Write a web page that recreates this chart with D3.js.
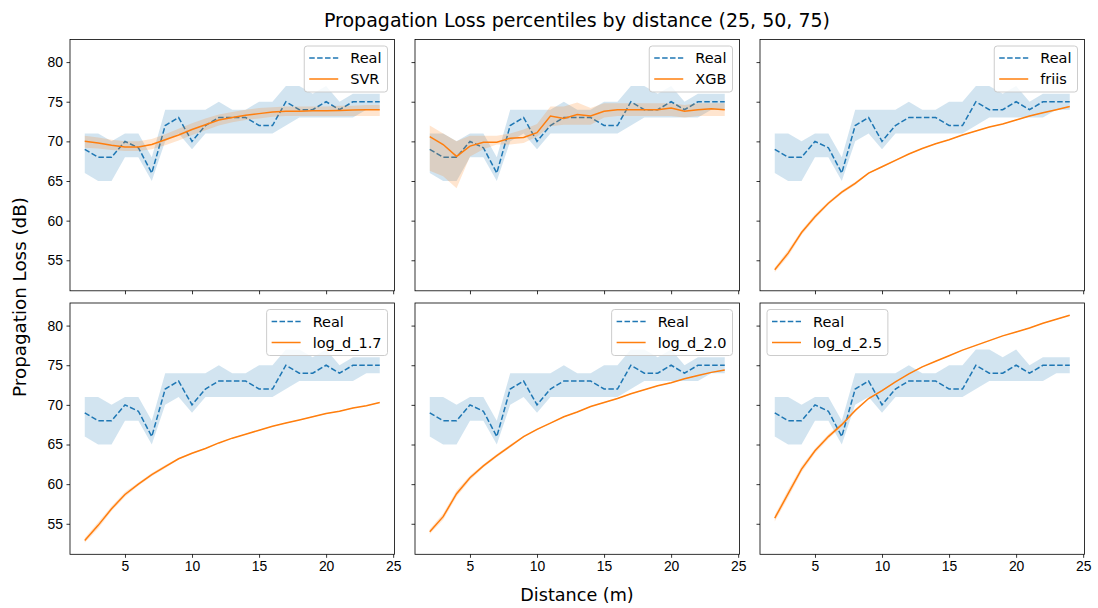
<!DOCTYPE html>
<html>
<head>
<meta charset="utf-8">
<script src="https://cdn.jsdelivr.net/npm/d3@7"></script>
<style>
  body { margin: 0; background: #fff; }
  svg { font-family: "DejaVu Sans", sans-serif; }
  .tick text { font-size: 13.9px; fill: #000; }
  .domain { display: none; }
  .tick line { stroke: #000; stroke-width: 0.8; }
</style>
</head>
<body>
<svg id="svg" width="1098" height="608"></svg>
<script>
const distance = [2, 3, 4, 5, 6, 7, 8, 9, 10, 11, 12, 13, 14, 15, 16, 17, 18, 19, 20, 21, 22, 23, 24];

// measured percentiles (25, 50, 75)
const realLo  = [66, 65, 65, 68, 68, 65, 70, 71, 69, 71, 71, 71, 71, 71, 71, 72, 73, 73, 73, 73, 73, 74, 74];
const realMed = [69, 68, 68, 70, 69.2, 66, 72, 73, 70, 72, 73, 73, 73, 72, 72, 75, 74, 74, 75, 74, 75, 75, 75];
const realHi  = [71, 71, 70, 71, 71, 68, 74, 74, 74, 74, 75, 74, 74, 75, 75, 77, 77, 76, 77, 75, 76, 76, 76];

const svrLo  = [69.2, 69.1, 68.9, 68.8, 68.8, 69.0, 69.5, 70.1, 70.8, 71.4, 72.0, 72.4, 72.7, 72.9, 73.1, 73.2, 73.2, 73.2, 73.2, 73.2, 73.2, 73.2, 73.2];
const svrMed = [70.0, 69.8, 69.5, 69.3, 69.3, 69.6, 70.2, 70.8, 71.5, 72.1, 72.7, 73.0, 73.3, 73.5, 73.7, 73.8, 73.8, 73.85, 73.85, 73.9, 73.95, 74.0, 74.0];
const svrHi  = [70.7, 70.5, 70.2, 70.0, 70.0, 70.3, 70.9, 71.6, 72.3, 72.9, 73.4, 73.7, 74.0, 74.2, 74.3, 74.4, 74.4, 74.4, 74.4, 74.5, 74.5, 74.6, 74.6];

const xgbLo  = [66.3, 65.6, 64.1, 68.1, 69.0, 69.6, 69.6, 69.8, 70.6, 71.9, 72.1, 72.1, 72.1, 73.0, 73.2, 73.2, 73.2, 73.2, 73.2, 73.0, 73.2, 73.2, 73.2];
const xgbMed = [70.6, 69.6, 68.1, 69.4, 69.9, 69.9, 70.4, 70.5, 71.1, 73.2, 72.9, 73.4, 73.2, 73.8, 74.0, 74.0, 74.0, 74.0, 74.2, 73.8, 74.0, 74.1, 74.0];
const xgbHi  = [72.0, 71.0, 70.0, 70.7, 70.7, 70.7, 71.0, 71.5, 72.2, 74.4, 74.4, 74.9, 74.2, 74.8, 74.8, 74.8, 74.8, 74.8, 74.8, 74.6, 74.8, 74.8, 74.8];

const friisLo  = [53.5, 55.5, 58.2, 60.2, 62.0, 63.4, 64.5, 65.9, 66.7, 67.5, 68.35, 69.05, 69.65, 70.15, 70.75, 71.25, 71.75, 72.15, 72.65, 73.15, 73.55, 73.95, 74.35];
const friisMed = [53.8, 55.9, 58.5, 60.5, 62.2, 63.6, 64.7, 66.0, 66.8, 67.6, 68.4, 69.1, 69.7, 70.2, 70.8, 71.3, 71.8, 72.2, 72.7, 73.2, 73.6, 74.0, 74.4];
const friisHi  = [54.1, 56.3, 58.8, 60.8, 62.4, 63.8, 64.9, 66.1, 66.9, 67.7, 68.45, 69.15, 69.75, 70.25, 70.85, 71.35, 71.85, 72.25, 72.75, 73.25, 73.65, 74.05, 74.45];

const log17Lo  = [52.6, 54.4, 56.6, 58.4, 59.8, 61.0, 62.0, 63.1, 63.8, 64.45, 65.15, 65.75, 66.25, 66.75, 67.25, 67.65, 68.05, 68.45, 68.85, 69.15, 69.55, 69.85, 70.25];
const log17Med = [52.9, 54.8, 56.9, 58.7, 60.0, 61.2, 62.2, 63.2, 63.9, 64.5, 65.2, 65.8, 66.3, 66.8, 67.3, 67.7, 68.1, 68.5, 68.9, 69.2, 69.6, 69.9, 70.3];
const log17Hi  = [53.2, 55.2, 57.2, 59.0, 60.2, 61.4, 62.4, 63.3, 64.0, 64.55, 65.25, 65.85, 66.35, 66.85, 67.35, 67.75, 68.15, 68.55, 68.95, 69.25, 69.65, 69.95, 70.35];

const log20Lo  = [53.7, 55.5, 58.4, 60.5, 62.1, 63.4, 64.6, 65.9, 66.8, 67.65, 68.45, 69.05, 69.75, 70.25, 70.75, 71.35, 71.85, 72.35, 72.75, 73.25, 73.65, 74.05, 74.35];
const log20Med = [54.0, 55.9, 58.8, 60.8, 62.3, 63.6, 64.8, 66.0, 66.9, 67.7, 68.5, 69.1, 69.8, 70.3, 70.8, 71.4, 71.9, 72.4, 72.8, 73.3, 73.7, 74.1, 74.4];
const log20Hi  = [54.3, 56.3, 59.2, 61.1, 62.5, 63.8, 65.0, 66.1, 67.0, 67.75, 68.55, 69.15, 69.85, 70.35, 70.85, 71.45, 71.95, 72.45, 72.85, 73.35, 73.75, 74.15, 74.45];

const log25Lo  = [55.3, 58.3, 61.5, 63.9, 65.7, 67.3, 69.1, 70.7, 71.7, 72.85, 73.85, 74.75, 75.45, 76.15, 76.85, 77.45, 78.05, 78.65, 79.15, 79.65, 80.25, 80.75, 81.25];
const log25Med = [55.7, 58.8, 61.9, 64.2, 66.0, 67.5, 69.3, 70.8, 71.8, 72.9, 73.9, 74.8, 75.5, 76.2, 76.9, 77.5, 78.1, 78.7, 79.2, 79.7, 80.3, 80.8, 81.3];
const log25Hi  = [56.1, 59.3, 62.3, 64.5, 66.3, 67.7, 69.5, 70.9, 71.9, 72.95, 73.95, 74.85, 75.55, 76.25, 76.95, 77.55, 78.15, 78.75, 79.25, 79.75, 80.35, 80.85, 81.35];

const modelNames = ["SVR", "XGB", "friis", "log_d_1.7", "log_d_2.0", "log_d_2.5"];
const xTicks = [5, 10, 15, 20, 25];
const yTicks = [55, 60, 65, 70, 75, 80];

const models = [
  { lo: svrLo, med: svrMed, hi: svrHi },
  { lo: xgbLo, med: xgbMed, hi: xgbHi },
  { lo: friisLo, med: friisMed, hi: friisHi },
  { lo: log17Lo, med: log17Med, hi: log17Hi },
  { lo: log20Lo, med: log20Med, hi: log20Hi },
  { lo: log25Lo, med: log25Med, hi: log25Hi }
];

const colors = { real: "#1f77b4", model: "#ff7f0e" };

const svg = d3.select("svg#svg");

const cols = [70, 415, 760];
const rows = [39.5, 303];
const pw = 324.5, ph = 251.3;

const x = d3.scaleLinear().domain([0.9, 25.1]).range([0, pw]);
const y = d3.scaleLinear().domain([51.15, 82.85]).range([ph, 0]);

var translate = function(a, b) {
  return "translate(" + a + ", " + b + ")";
}

var lineOf = function(vals) {
  return d3.line()
    .x((d, i) => x(distance[i]))
    .y(d => y(d))(vals);
}

var areaOf = function(lo, hi) {
  return d3.area()
    .x((d, i) => x(distance[i]))
    .y0((d, i) => y(lo[i]))
    .y1((d, i) => y(hi[i]))(lo);
}

var drawLegend = function(g, name, upperLeft) {
  let leg = g.append("g");
  let box = leg.append("rect")
    .attr("rx", 3)
    .attr("fill", "#fff")
    .attr("fill-opacity", 0.8)
    .attr("stroke", "#cccccc")
    .attr("stroke-width", 1);

  let labels = ["Real", name];
  let widths = [];
  labels.forEach(function(txt, i) {
    let cy = 12 + i * 21;
    leg.append("line")
      .attr("x1", 5).attr("x2", 34)
      .attr("y1", cy).attr("y2", cy)
      .attr("stroke", i == 0 ? colors.real : colors.model)
      .attr("stroke-width", 1.5)
      .attr("stroke-dasharray", i == 0 ? "5.5,2.4" : null);
    let t = leg.append("text")
      .attr("x", 46)
      .attr("y", cy + 5)
      .attr("font-size", "14.5px")
      .text(txt);
    widths.push(t.node().getComputedTextLength());
  });

  let bw = 46 + d3.max(widths) + 6;
  let bh = 46;
  box.attr("width", bw).attr("height", bh);
  let lx = upperLeft ? 7 : pw - 7 - bw;
  leg.attr("transform", translate(lx, 6.5));
}

var drawPanel = function(k) {
  let r = Math.floor(k / 3), c = k % 3;
  let g = svg.append("g").attr("transform", translate(cols[c], rows[r]));
  let m = models[k];

  let clip = "clip" + k;
  g.append("clipPath").attr("id", clip)
    .append("rect").attr("width", pw).attr("height", ph);
  let plot = g.append("g").attr("clip-path", "url(#" + clip + ")");

  plot.append("path")
    .attr("d", lineOf(realMed))
    .attr("fill", "none")
    .attr("stroke", colors.real)
    .attr("stroke-width", 1.5)
    .attr("stroke-dasharray", "5.5,2.4");
  plot.append("path")
    .attr("d", areaOf(realLo, realHi))
    .attr("fill", colors.real)
    .attr("fill-opacity", 0.2);

  plot.append("path")
    .attr("d", lineOf(m.med))
    .attr("fill", "none")
    .attr("stroke", colors.model)
    .attr("stroke-width", 1.5);
  plot.append("path")
    .attr("d", areaOf(m.lo, m.hi))
    .attr("fill", colors.model)
    .attr("fill-opacity", 0.2);

  let xa = d3.axisBottom(x).tickValues(xTicks).tickSize(3.5).tickPadding(3.5);
  if (r == 0) xa.tickFormat("");
  g.append("g").attr("transform", translate(0, ph)).call(xa);

  let ya = d3.axisLeft(y).tickValues(yTicks).tickSize(3.5).tickPadding(3.5);
  if (c != 0) ya.tickFormat("");
  g.append("g").call(ya);

  g.append("rect")
    .attr("width", pw).attr("height", ph)
    .attr("fill", "none")
    .attr("stroke", "#000")
    .attr("stroke-width", 0.8);

  drawLegend(g, modelNames[k], k == 5);
}

for (let k = 0; k < 6; k++) drawPanel(k);

svg.append("text")
  .attr("x", 577).attr("y", 27)
  .attr("text-anchor", "middle")
  .attr("font-size", "19px")
  .text("Propagation Loss percentiles by distance (25, 50, 75)");

svg.append("text")
  .attr("x", 577).attr("y", 601)
  .attr("text-anchor", "middle")
  .attr("font-size", "17.6px")
  .text("Distance (m)");

svg.append("text")
  .attr("transform", translate(26, 297) + " rotate(-90)")
  .attr("text-anchor", "middle")
  .attr("font-size", "18.3px")
  .text("Propagation Loss (dB)");
</script>
</body>
</html>
